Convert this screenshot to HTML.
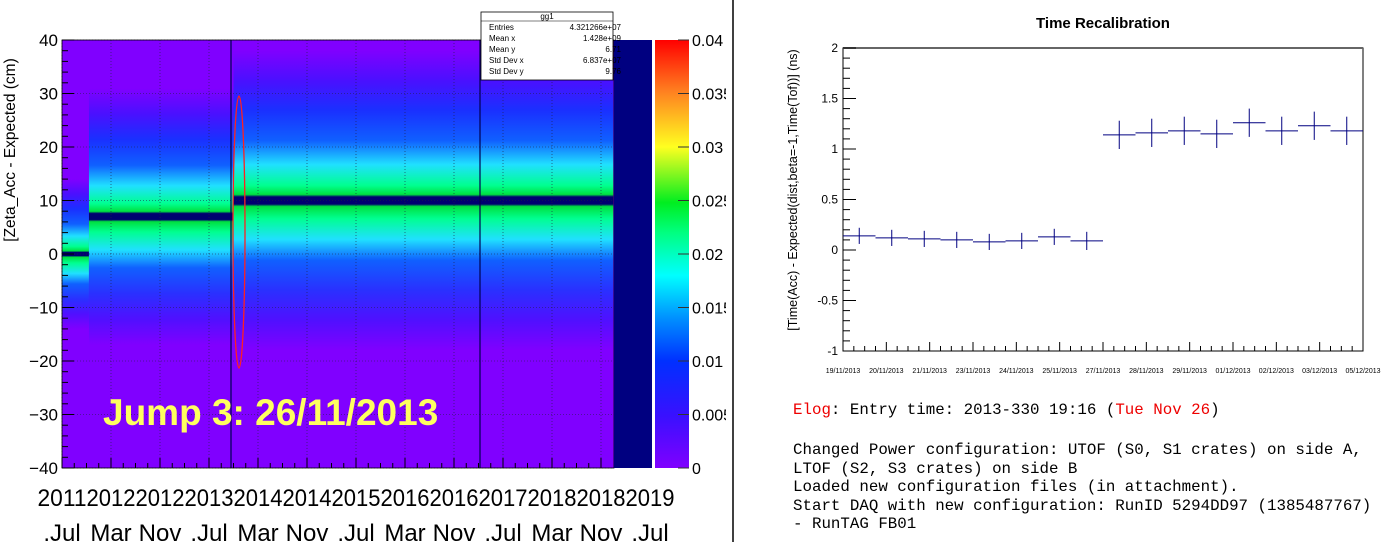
<!DOCTYPE html>
<html><head><meta charset="utf-8">
<style>
body{margin:0;background:#fff;width:1389px;height:542px;overflow:hidden;position:relative;font-family:"Liberation Sans",sans-serif}
svg{position:absolute;left:0;top:0}
.mono{font-family:"Liberation Mono",monospace;font-size:15.8px;position:absolute;left:793px;white-space:pre;color:#000}
</style></head><body>
<svg id="s" width="1389" height="542">
<defs>
<linearGradient id="cbar" x1="0" y1="1" x2="0" y2="0">
<stop offset="0" stop-color="#8000ff"/><stop offset="0.12" stop-color="#3a10ff"/><stop offset="0.25" stop-color="#0030ff"/><stop offset="0.35" stop-color="#0090ff"/><stop offset="0.45" stop-color="#00ffff"/><stop offset="0.55" stop-color="#00ff80"/><stop offset="0.62" stop-color="#00ee20"/><stop offset="0.75" stop-color="#ffff20"/><stop offset="0.88" stop-color="#ff8020"/><stop offset="1" stop-color="#ff0000"/>
</linearGradient>
<linearGradient id="band" x1="0" y1="0" x2="0" y2="1">
<stop offset="0" stop-color="#8000ff"/><stop offset="0.1" stop-color="#4a10ff"/><stop offset="0.2" stop-color="#1a30ff"/><stop offset="0.3" stop-color="#1060ff"/><stop offset="0.38" stop-color="#20e0ff"/><stop offset="0.45" stop-color="#00ff90"/><stop offset="0.48" stop-color="#00e040"/><stop offset="0.488" stop-color="#000070"/><stop offset="0.512" stop-color="#000070"/><stop offset="0.52" stop-color="#00e040"/><stop offset="0.56" stop-color="#00ff90"/><stop offset="0.63" stop-color="#20e0ff"/><stop offset="0.7" stop-color="#1060ff"/><stop offset="0.8" stop-color="#2a30ff"/><stop offset="0.9" stop-color="#5010ff"/><stop offset="1" stop-color="#8000ff"/>
</linearGradient>
</defs>
<g id="left"></g>
<rect x="726" y="0" width="7" height="542" fill="#fff"/>
<line x1="733" y1="0" x2="733" y2="542" stroke="#000" stroke-width="1.5"/>
<g id="right"></g>
</svg>
<div class="mono" style="top:401px"><span style="color:#e00">Elog</span>: Entry time: 2013-330 19:16 (<span style="color:#e00">Tue Nov 26</span>)</div>
<div class="mono" style="top:441px;line-height:18.6px">Changed Power configuration: UTOF (S0, S1 crates) on side A,
LTOF (S2, S3 crates) on side B
Loaded new configuration files (in attachment).
Start DAQ with new configuration: RunID 5294DD97 (1385487767)
- RunTAG FB01</div>
<script>
// ---- left chart data ----
const segStartMonths=[0,4.4,28];     // months since Jul 2011
const segEndMonths=[4.4,28,90];
const segCenters=[0,7,10];           // cm
const segHalfWidth=[14,24,28];       // cm
const leftYTicks=[40,30,20,10,0,-10,-20,-30,-40];
const leftXTop=["2011","2012","2012","2013","2014","2014","2015","2016","2016","2017","2018","2018","2019"];
const leftXBot=[".Jul","Mar","Nov",".Jul","Mar","Nov",".Jul","Mar","Nov",".Jul","Mar","Nov",".Jul"];
const cbarTicks=["0","0.005","0.01","0.015","0.02","0.025","0.03","0.035","0.04"];
const statsNames=["Entries","Mean x","Mean y","Std Dev x","Std Dev y"];
const statsVals=["4.321266e+07","1.428e+09","6.71","6.837e+07","9.76"];
// ---- right chart data ----
const rDates=["19/11/2013","20/11/2013","21/11/2013","23/11/2013","24/11/2013","25/11/2013","27/11/2013","28/11/2013","29/11/2013","01/12/2013","02/12/2013","03/12/2013","05/12/2013"];
const rValues=[0.14,0.12,0.11,0.10,0.08,0.09,0.13,0.09,1.14,1.16,1.18,1.15,1.26,1.18,1.23,1.18];
const rErrors=[0.08,0.08,0.08,0.08,0.08,0.08,0.08,0.09,0.14,0.14,0.14,0.14,0.14,0.14,0.14,0.14];
const rYTicks=[2,1.5,1,0.5,0,-0.5,-1];

const NS="http://www.w3.org/2000/svg";
function mk(p,t,a){const e=document.createElementNS(NS,t);for(const k in a)e.setAttribute(k,a[k]);p.appendChild(e);return e;}

// LEFT
const L=document.getElementById('left');
const lx=m=>62+m*49/8, ly=v=>40+(40-v)*428/80;
let r=mk(L,'rect',{x:62,y:40,width:552,height:428,fill:'#8000ff'});


segCenters.forEach((c,i)=>{
  const e=mk(L,'rect',{x:lx(segStartMonths[i]),y:ly(c+segHalfWidth[i]),width:lx(segEndMonths[i])-lx(segStartMonths[i]),height:ly(c-segHalfWidth[i])-ly(c+segHalfWidth[i]),fill:'url(#band)'});
  
  
});
for(let i=0;i<leftYTicks.length;i++){const y=ly(leftYTicks[i]);
  mk(L,'line',{x1:62,x2:614,y1:y,y2:y,stroke:'#202040','stroke-width':0.6,'stroke-dasharray':'1,2'});
  mk(L,'line',{x1:62,x2:74,y1:y,y2:y,stroke:'#000'});
  const t=mk(L,'text',{x:58,y:y+6,'text-anchor':'end','font-size':17,fill:'#000'});t.textContent=(leftYTicks[i]<0?'\u2212':'')+Math.abs(leftYTicks[i]);
  
  
  if(i<8)for(let k=1;k<5;k++){const yy=y+k*428/40;mk(L,'line',{x1:62,x2:68,y1:yy,y2:yy,stroke:'#000'});}
}
leftXTop.forEach((s,i)=>{const x=lx(i*8);
  if(x<614)mk(L,'line',{x1:x,x2:x,y1:40,y2:468,stroke:'#202040','stroke-width':0.6,'stroke-dasharray':'1,2'});
  const t=mk(L,'text',{x:x,y:506,'text-anchor':'middle','font-size':24,textLength:49,lengthAdjust:'spacingAndGlyphs',fill:'#000'});t.textContent=s;
  
  
  const b=mk(L,'text',{x:x,y:541,'text-anchor':'middle','font-size':24,fill:'#000'});b.textContent=leftXBot[i];
  
  
});
for(let m=0;m<90;m+=2)mk(L,'line',{x1:lx(m),x2:lx(m),y1:468,y2:m%8?463:458,stroke:'#000'});
mk(L,'line',{x1:231,x2:231,y1:40,y2:468,stroke:'#000050','stroke-width':1.2});
mk(L,'line',{x1:480,x2:480,y1:40,y2:468,stroke:'#000050','stroke-width':1.2});
mk(L,'rect',{x:62,y:40,width:552,height:428,fill:'none',stroke:'#000','stroke-width':0.8});
r=mk(L,'rect',{x:614,y:40,width:38,height:428,fill:'#000080'});


r=mk(L,'rect',{x:655,y:40,width:34,height:428,fill:'url(#cbar)'});


cbarTicks.forEach((s,i)=>{const y=468-i*428/8;
  mk(L,'line',{x1:678,x2:689,y1:y,y2:y,stroke:'#333'});
  const t=mk(L,'text',{x:692,y:y+6,'font-size':16,fill:'#000'});t.textContent=s;
  
  });
let ax=mk(L,'text',{transform:'translate(15,150) rotate(-90)','text-anchor':'middle','font-size':15.5,fill:'#000'});ax.textContent='[Zeta_Acc - Expected (cm)';


const oval=mk(L,'ellipse',{cx:239,cy:232,rx:6,ry:136,fill:'none',stroke:'#ff2020','stroke-width':1.3});


const jt=mk(L,'text',{x:103,y:425,'font-size':37,'font-weight':'bold',fill:'#ffff60'});jt.textContent='Jump 3: 26/11/2013';


// stats box
const sb=mk(L,'g',{});


mk(sb,'rect',{x:481,y:12,width:132,height:68,fill:'#fff',stroke:'#000','stroke-width':0.8});
mk(sb,'line',{x1:481,x2:613,y1:21,y2:21,stroke:'#000','stroke-width':0.6});
let tt=mk(sb,'text',{x:547,y:19,'text-anchor':'middle','font-size':8});tt.textContent='gg1';
statsNames.forEach((n,i)=>{const y=30+i*11;
  let a=mk(sb,'text',{x:489,y:y,'font-size':8});a.textContent=n;
  let b=mk(sb,'text',{x:621,y:y,'font-size':8,'text-anchor':'end'});b.textContent=statsVals[i];});

// RIGHT
const R=document.getElementById('right');
const X0=843,X1=1363,Y0=48,Y1=351;
const ry=v=>Y1-(v+1)*(Y1-Y0)/3;
const bw=(X1-X0)/rValues.length, rx=i=>X0+(i+0.5)*bw;
let ti=mk(R,'text',{x:1103,y:28,'text-anchor':'middle','font-size':15,'font-weight':'bold'});ti.textContent='Time Recalibration';


mk(R,'rect',{x:X0,y:Y0,width:X1-X0,height:Y1-Y0,fill:'none',stroke:'#000','stroke-width':1});
mk(R,'line',{x1:X0,x2:X1,y1:Y0,y2:Y0,stroke:'#666','stroke-width':2});
rYTicks.forEach(v=>{const y=ry(v);
  mk(R,'line',{x1:X0,x2:X0+13,y1:y,y2:y,stroke:'#000'});
  const t=mk(R,'text',{x:838,y:y+4,'text-anchor':'end','font-size':12});t.textContent=v;
  
  
  if(v>-1)for(let k=1;k<5;k++){const yy=y+k*(Y1-Y0)/30;mk(R,'line',{x1:X0,x2:X0+7,y1:yy,y2:yy,stroke:'#000'});}
});
rDates.forEach((d,i)=>{const x=X0+i*(X1-X0)/(rDates.length-1);
  mk(R,'line',{x1:x,x2:x,y1:Y1,y2:Y1-9,stroke:'#000'});
  if(i<rDates.length-1)for(let k=1;k<4;k++){const xx=x+k*(X1-X0)/(rDates.length-1)/4;mk(R,'line',{x1:xx,x2:xx,y1:Y1,y2:Y1-5,stroke:'#000'});}
  const t=mk(R,'text',{x:x,y:373,'text-anchor':'middle','font-size':7});t.textContent=d;
  
  
});
let ya=mk(R,'text',{transform:'translate(797,190) rotate(-90)','text-anchor':'middle','font-size':12.5});ya.textContent='[Time(Acc) - Expected(dist,beta=-1,Time(Tof))] (ns)';


rValues.forEach((v,i)=>{
  const g=mk(R,'g',{});
  
  
  mk(g,'line',{x1:X0+i*bw,x2:X0+(i+1)*bw,y1:ry(v),y2:ry(v),stroke:'#000080','stroke-width':1});
  mk(g,'line',{x1:rx(i),x2:rx(i),y1:ry(v+rErrors[i]),y2:ry(v-rErrors[i]),stroke:'#000080','stroke-width':1});
});
</script>
</body></html>
